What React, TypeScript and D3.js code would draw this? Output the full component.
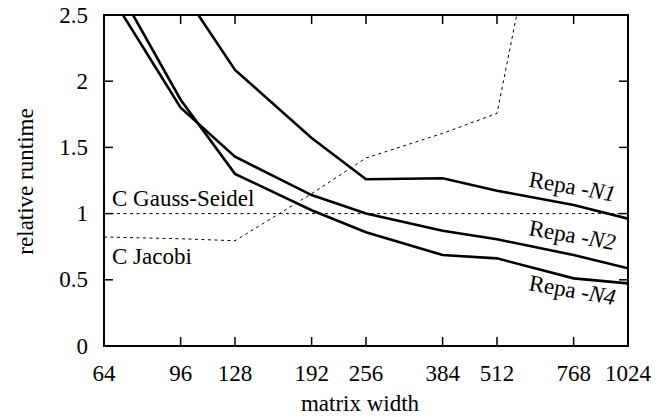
import React from "react";
import * as d3 from "d3";

const widths = [64, 96, 128, 192, 256, 384, 512, 768, 1024];
const repaN1 = [4.0, 2.7, 2.085, 1.571, 1.259, 1.267, 1.173, 1.065, 0.962];
const repaN2 = [2.73, 1.8, 1.43, 1.14, 1.0, 0.871, 0.806, 0.687, 0.587];
const repaN4 = [2.89, 1.86, 1.3, 1.025, 0.859, 0.687, 0.662, 0.511, 0.473];
const gaussSeidel = [1, 1, 1, 1, 1, 1, 1, 1, 1];
const jacobiWidths = [64, 96, 128, 192, 256, 384, 512, 768];
const jacobi = [0.823, 0.81, 0.795, 1.15, 1.42, 1.606, 1.757, 4.65];
const yTicks = [0, 0.5, 1, 1.5, 2, 2.5];
const yTickLabels = ["0", "0.5", "1", "1.5", "2", "2.5"];
const xTickLabels = ["64", "96", "128", "192", "256", "384", "512", "768", "1024"];

const W = 667, H = 417;
const L = 104, R = 628, T = 15, B = 346;
const FONT = "Liberation Serif";

export default function App() {
  const x = d3.scaleLog().base(2).domain([64, 1024]).range([L, R]);
  const y = d3.scaleLinear().domain([0, 2.5]).range([B, T]);
  const line = d3
    .line<[number, number]>()
    .x((d) => x(d[0]))
    .y((d) => y(d[1]));
  const mk = (xs: number[], vs: number[]) =>
    line(xs.map((w, i) => [w, vs[i]] as [number, number])) || "";
  const tick = 9;
  const fs = 23;
  const ts = { fontFamily: FONT, fontSize: fs + "px" };
  return (
    <svg
      width={W}
      height={H}
      style={{ position: "absolute", left: 0, top: 0, background: "#fff", fontFamily: FONT }}
    >
      <defs>
        <clipPath id="plot">
          <rect x={L} y={T} width={R - L} height={B - T} />
        </clipPath>
      </defs>
      <rect width={W} height={H} fill="#fff" />
      {yTicks.map((v) => (
        <g key={"y" + v}>
          <line x1={L} x2={L + tick} y1={y(v)} y2={y(v)} stroke="#000" strokeWidth={1.5} />
          <line x1={R} x2={R - tick} y1={y(v)} y2={y(v)} stroke="#000" strokeWidth={1.5} />
        </g>
      ))}
      {widths.map((w) => (
        <g key={"x" + w}>
          <line x1={x(w)} x2={x(w)} y1={B} y2={B - tick} stroke="#000" strokeWidth={1.5} />
          <line x1={x(w)} x2={x(w)} y1={T} y2={T + tick} stroke="#000" strokeWidth={1.5} />
        </g>
      ))}
      {yTicks.map((v, i) => (
        <text key={"yl" + v} x={88} y={y(v) + 7.5} textAnchor="end" style={ts}>
          {yTickLabels[i]}
        </text>
      ))}
      {widths.map((w, i) => (
        <text key={"xl" + w} x={x(w)} y={381} textAnchor="middle" style={ts}>
          {xTickLabels[i]}
        </text>
      ))}
      <text x={(L + R) / 2 - 6} y={411} textAnchor="middle" style={ts}>
        matrix width
      </text>
      <text
        transform={`translate(33, ${(T + B) / 2 + 1}) rotate(-90)`}
        textAnchor="middle"
        style={ts}
      >
        relative runtime
      </text>
      <g clipPath="url(#plot)" fill="none">
        <path d={mk(widths, gaussSeidel)} stroke="#000" strokeWidth={1} strokeDasharray="3,3.5" />
        <path d={mk(jacobiWidths, jacobi)} stroke="#000" strokeWidth={1} strokeDasharray="3,3.5" />
        <path d={mk(widths, repaN1)} stroke="#000" strokeWidth={2.6} />
        <path d={mk(widths, repaN2)} stroke="#000" strokeWidth={2.6} />
        <path d={mk(widths, repaN4)} stroke="#000" strokeWidth={2.6} />
      </g>
      <rect x={L} y={T} width={R - L} height={B - T} fill="none" stroke="#000" strokeWidth={2} />
      <text x={112} y={205.5} style={ts}>C Gauss-Seidel</text>
      <text x={112} y={264} style={ts}>C Jacobi</text>
      {[
        { n: "N1", yy: 186.5 },
        { n: "N2", yy: 235 },
        { n: "N4", yy: 290 },
      ].map((d) => (
        <text key={d.n} transform={`translate(528, ${d.yy}) rotate(10)`} style={ts}>
          Repa -<tspan fontStyle="italic">{d.n}</tspan>
        </text>
      ))}
    </svg>
  );
}
